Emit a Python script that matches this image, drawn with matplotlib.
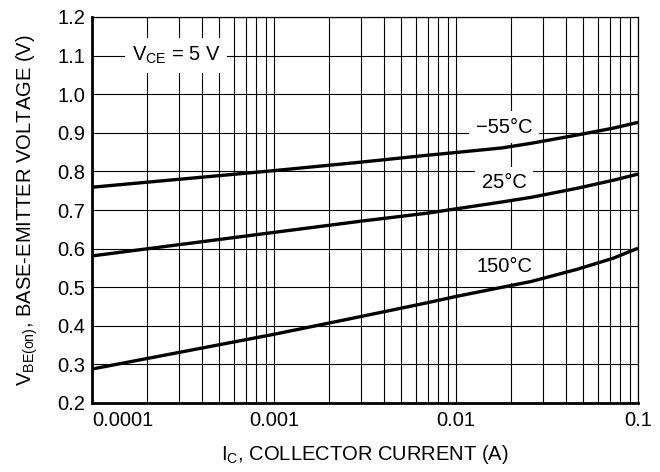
import matplotlib
matplotlib.use("Agg")
import matplotlib.pyplot as plt
from matplotlib.ticker import LogLocator, FixedLocator, NullFormatter

plt.rcParams['font.family'] = ['Liberation Sans', 'DejaVu Sans']

# Data
ic = [1e-4, 1e-3, 3e-3, 7e-3, 1e-2, 1.8e-2, 2.6e-2, 4.6e-2, 7.3e-2, 1e-1]
v_m55 = [0.759, 0.802, 0.824, 0.842, 0.849, 0.861, 0.873, 0.894, 0.912, 0.927]
v_25 = [0.581, 0.642, 0.671, 0.692, 0.703, 0.721, 0.733, 0.756, 0.777, 0.793]
v_150 = [0.288, 0.378, 0.424, 0.460, 0.476, 0.500, 0.515, 0.546, 0.575, 0.601]
series_labels = ['\u221255\u00b0C', '25\u00b0C', '150\u00b0C']
label_pos = [(0.0184, 0.915), (0.0184, 0.770), (0.0184, 0.553)]
x_ticks = [1e-4, 1e-3, 1e-2, 1e-1]
x_ticklabels = ['0.0001', '0.001', '0.01', '0.1']
y_ticks = [0.2, 0.3, 0.4, 0.5, 0.6, 0.7, 0.8, 0.9, 1.0, 1.1, 1.2]

fig = plt.figure(figsize=(6.6, 4.72), dpi=100)
ax = fig.add_axes([92/660, 1-403/472, (638-92)/660, (403-17)/472])
ax.set_axisbelow(True)

ax.set_xscale('log')
ax.set_xlim(1e-4, 1e-1)
ax.set_ylim(0.2, 1.2)

ax.xaxis.set_major_locator(FixedLocator(x_ticks))
ax.xaxis.set_minor_locator(LogLocator(base=10, subs=range(2, 10)))
ax.xaxis.set_minor_formatter(NullFormatter())
ax.set_xticks(x_ticks)
ax.set_xticklabels(x_ticklabels)
ax.set_yticks(y_ticks)
ax.set_yticklabels([f'{v:.1f}' for v in y_ticks])

ax.grid(True, which='both', color='black', lw=0.8)
ax.tick_params(which='both', length=0, labelsize=14.5)
ax.tick_params(axis='y', pad=5)
ax.tick_params(axis='x', pad=6)
for lbl in ax.get_xticklabels():
    if lbl.get_text() == '0.0001':
        lbl.set_horizontalalignment('left')
    elif lbl.get_text() == '0.1':
        lbl.set_horizontalalignment('center')

for s in ['left', 'bottom']:
    ax.spines[s].set_linewidth(2.0)
    ax.spines[s].set_zorder(5)
for s in ['top', 'right']:
    ax.spines[s].set_linewidth(0.9)

for ys in [v_m55, v_25, v_150]:
    ax.plot(ic, ys, color='black', lw=2.4, solid_capstyle='butt',
            solid_joinstyle='round', zorder=3)

for txt, (xx, yy) in zip(series_labels, label_pos):
    ax.text(xx, yy, txt, fontsize=14.5, ha='center', va='center', zorder=2,
            bbox=dict(facecolor='white', edgecolor='none', pad=5))

ax.text(2.9e-4, 1.1, r'V$_{\mathregular{CE}}$ = 5 V', fontsize=14.5, ha='center', va='center',
        zorder=2, bbox=dict(facecolor='white', edgecolor='none', pad=5))

ax.set_xlabel(r'I$_{\mathregular{C}}$, COLLECTOR CURRENT (A)', fontsize=14.5, labelpad=9)
ax.set_ylabel(r'V$_{\mathregular{BE(on)}}$, BASE-EMITTER VOLTAGE (V)', fontsize=14.5, labelpad=12)

fig.savefig('out.png', dpi=100)
